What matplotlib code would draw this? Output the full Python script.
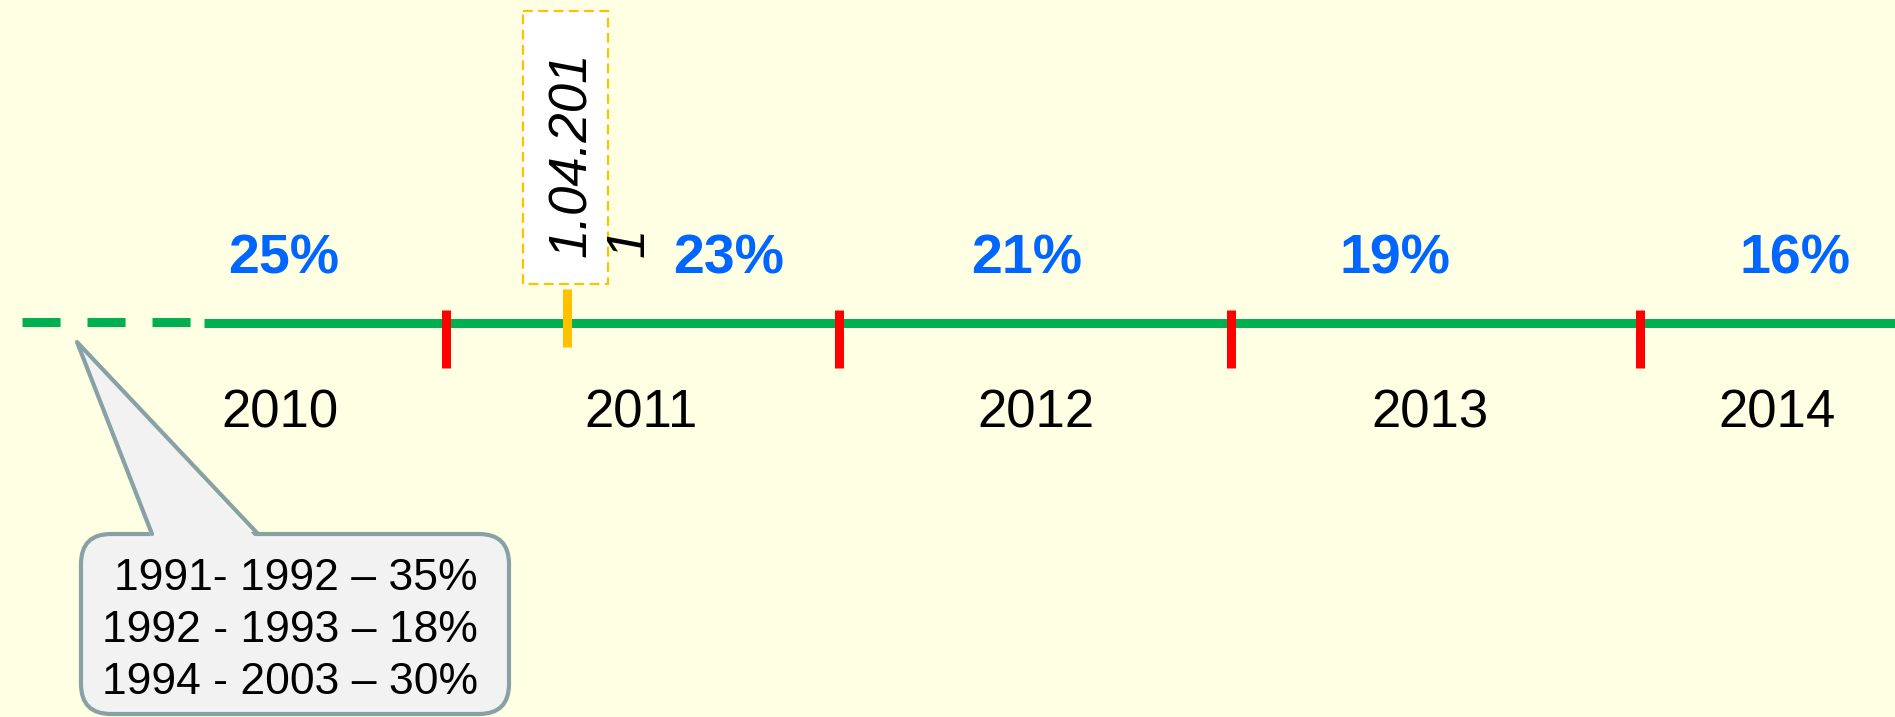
import matplotlib.pyplot as plt
from matplotlib.patches import FancyBboxPatch, Polygon, Rectangle

# timeline content
years = ['2010', '2011', '2012', '2013', '2014']
rates = ['25%', '23%', '21%', '19%', '16%']
history = ['1991- 1992 – 35%', '1992 - 1993 – 18%', '1994 - 2003 – 30%']
event_label = '1.04.201\n1'

# layout in pixel units of the slide (1895 x 717)
line_y = 323
year_x = [280, 641, 1036, 1430, 1777]
rate_x = [284, 729, 1027, 1395, 1795]
bound_x = [446, 839, 1231, 1640]
event_x = 567

plt.rcParams['font.family'] = ['Liberation Sans', 'DejaVu Sans']
plt.rcParams['lines.scale_dashes'] = False

bg = '#FFFFE3'
fig = plt.figure(figsize=(18.95, 7.17), dpi=100, facecolor=bg)
ax = fig.add_axes([0, 0, 1, 1])
ax.set_xlim(0, 1895)
ax.set_ylim(717, 0)
ax.axis('off')

lw = 9 * 0.72
# dashed start + solid timeline
ax.plot([22, 192], [line_y - 1.5, line_y - 1.5], color='#00B050', lw=lw,
        solid_capstyle='butt', dash_capstyle='butt', dashes=(27.4, 19.4))
ax.plot([204, 1895], [line_y, line_y], color='#00B050', lw=lw, solid_capstyle='butt')

# year boundaries
ax.vlines(bound_x, 310, 368, color='#FF0000', lw=lw)
ax.vlines([event_x], 289, 347, color='#FFC000', lw=lw)

for x, y in zip(year_x, years):
    ax.text(x, 413, y, fontsize=38, ha='center', va='center', color='black')
for x, r in zip(rate_x, rates):
    ax.text(x, 260, r, fontsize=40, fontweight='bold', ha='center', va='center',
            color='#0066FF')

# event box with date
ax.add_patch(Rectangle((523, 11), 85, 273, facecolor='white', edgecolor='#FFC000',
                       lw=1.6, linestyle=(0, (7, 4)), zorder=3))
ax.text(601, 257, event_label, rotation=90, fontsize=38, style='italic',
        ha='center', va='bottom', multialignment='left', color='black', zorder=4)

# callout with earlier history
edge = '#87A1A4'
face = '#F2F2F2'
ax.add_patch(FancyBboxPatch((81, 534), 428, 180, boxstyle='round,pad=0,rounding_size=30',
                            facecolor=face, edgecolor=edge, lw=3, zorder=2))
ax.add_patch(Polygon([(152, 540), (77, 342), (258, 540)], closed=True,
                     facecolor=face, edgecolor='none', zorder=3))
ax.plot([152, 77, 258], [534, 342, 534], color=edge, lw=3, zorder=4,
        solid_joinstyle='round', solid_capstyle='round')
for i, h in enumerate(history):
    ax.text(478, 578 + i * 52, h, fontsize=32, ha='right', va='center',
            color='black', zorder=5)

fig.savefig('out.png', dpi=100, facecolor=bg)
